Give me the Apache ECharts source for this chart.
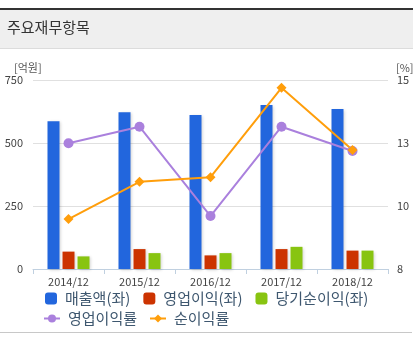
<!DOCTYPE html>
<html><head><meta charset="utf-8">
<script src="https://cdn.jsdelivr.net/npm/echarts@6/dist/echarts.min.js"></script>
<style>html,body{margin:0;padding:0;background:#fff;}#c{width:415px;height:340px;}</style>
</head><body><div id="c"></div>
<script>
const categories = ['2014/12','2015/12','2016/12','2017/12','2018/12'];
const sales = [586, 622, 611, 651, 635];
const opProfit = [69, 79, 54, 79, 73];
const netProfit = [50, 63, 63, 88, 73];
const opMargin = [12.66, 13.27, 9.96, 13.27, 12.37];
const netMargin = [9.85, 11.23, 11.4, 14.71, 12.41];
const leftTicks = {min: 0, max: 750, interval: 250};
const rightTicks = {min: 8, max: 15, interval: 7/3};

const font = '"Noto Sans CJK KR", "Noto Sans", sans-serif';
const chart = echarts.init(document.getElementById('c'));
const barShadow = {shadowColor:'rgba(0,0,0,0.18)', shadowBlur:3, shadowOffsetX:1, shadowOffsetY:1};
chart.setOption({
  animation: false,
  textStyle: {fontFamily: font},
  title: {text: '주요재무항목', left: 7, top: 20, padding: 0, textStyle: {fontSize: 15, fontWeight: 'normal', color: '#333', fontFamily: font}},
  graphic: [
    {type:'rect', z:-1, shape:{x:0,y:8,width:413,height:2}, style:{fill:'#333'}},
    {type:'rect', z:-1, shape:{x:0,y:10,width:413,height:38}, style:{fill:'#efefef'}},
    {type:'rect', z:-1, shape:{x:0,y:48,width:413,height:1}, style:{fill:'#dcdcdc'}},
    {type:'rect', z:-1, shape:{x:0,y:332,width:412,height:1}, style:{fill:'#c8c8c8'}},
    {type:'text', left: 14, top: 62, style:{text:'[억원]', fontSize: 11, fill:'#555', fontFamily: font}},
    {type:'text', left: 396, top: 62, style:{text:'[%]', fontSize: 11, fill:'#555', fontFamily: font}}
  ],
  legend: [
    {left: 45, top: 291, padding: 0, itemWidth: 12, itemHeight: 12, itemGap: 13, icon: 'roundRect',
     data: ['매출액(좌)','영업이익(좌)','당기순이익(좌)'],
     textStyle: {fontSize: 15, color: '#3e576f', padding: [0,0,0,3]}},
    {left: 43, top: 311, padding: 0, itemWidth: 16, itemHeight: 10, itemGap: 12,
     data: ['영업이익률','순이익률'],
     textStyle: {fontSize: 15, color: '#3e576f', padding: [0,0,0,3]}}
  ],
  grid: {left: 33, right: 27, top: 80, bottom: 71, containLabel: false},
  xAxis: {type: 'category', data: categories,
    axisLine: {lineStyle: {color: '#c0d0e0'}},
    axisTick: {show: true, length: 5, lineStyle: {color: '#c0d0e0'}},
    axisLabel: {fontSize: 11, color: '#444', margin: 7}},
  yAxis: [
    {type: 'value', min: leftTicks.min, max: leftTicks.max, interval: leftTicks.interval,
     axisLabel: {fontSize: 11, color: '#444', margin: 10},
     splitLine: {lineStyle: {color: '#e0e0e0'}}, axisLine: {show: false}, axisTick: {show: false}},
    {type: 'value', min: rightTicks.min, max: rightTicks.max, interval: rightTicks.interval,
     axisLabel: {fontSize: 11, color: '#444', margin: 9, formatter: v => String(Math.round(v))},
     splitLine: {show: false}, axisLine: {show: false}, axisTick: {show: false}}
  ],
  series: [
    {name:'매출액(좌)', type:'bar', data: sales, barWidth: 12, barGap: '25%', itemStyle: Object.assign({color:'#2266dd'}, barShadow)},
    {name:'영업이익(좌)', type:'bar', data: opProfit, barWidth: 12, barGap: '25%', itemStyle: Object.assign({color:'#cc3300'}, barShadow)},
    {name:'당기순이익(좌)', type:'bar', data: netProfit, barWidth: 12, barGap: '25%', itemStyle: Object.assign({color:'#88c411'}, barShadow)},
    {name:'영업이익률', type:'line', yAxisIndex: 1, data: opMargin, symbol:'circle', symbolSize: 10,
     lineStyle:{width:2, color:'#aa80dd'}, itemStyle:{color:'#aa80dd'}},
    {name:'순이익률', type:'line', yAxisIndex: 1, data: netMargin, symbol:'diamond', symbolSize: 10,
     lineStyle:{width:2, color:'#ff9e0b'}, itemStyle:{color:'#ff9e0b'}}
  ]
});
</script></body></html>
